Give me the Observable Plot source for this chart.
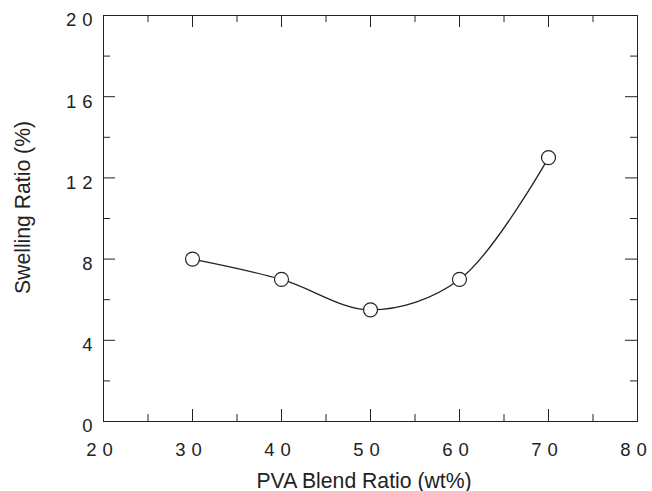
<!DOCTYPE html>
<html><head><meta charset="utf-8">
<script src="https://cdn.jsdelivr.net/npm/d3@7"></script>
<script src="https://cdn.jsdelivr.net/npm/@observablehq/plot@0.6"></script>
<style>
body{margin:0;background:#fff;}
g[aria-label="x-axis tick label"] text, g[aria-label="y-axis tick label"] text {letter-spacing:6px;}
</style>
</head><body><div id="chart"></div>
<script>
const blendRatio = [30, 40, 50, 60, 70];
const swelling = [8, 7, 5.5, 7, 13];
const xMajorTicks = [20, 30, 40, 50, 60, 70, 80];
const xMinorTicks = [25, 35, 45, 55, 65, 75];
const yMajorTicks = [0, 4, 8, 12, 16, 20];
const yMinorTicks = [2, 6, 10, 14, 18];
const xTitle = "PVA Blend Ratio (wt%)";
const yTitle = "Swelling Ratio (%)";

const W = 652, H = 491, mL = 103, mR = 15, mT = 15, mB = 70;
const fw = W - mL - mR, fh = H - mT - mB;
const data = blendRatio.map((x, i) => ({x, y: swelling[i]}));
const ink = "#222";
const chart = Plot.plot({
  width: W, height: H, marginLeft: mL, marginRight: mR, marginTop: mT, marginBottom: mB,
  style: {fontFamily: "'Liberation Sans', Arial, sans-serif", background: "#fff", color: ink},
  x: {domain: [20, 80]},
  y: {domain: [0, 20]},
  marks: [
    Plot.ruleX(xMajorTicks, {insetTop: fh - 12, stroke: ink}),
    Plot.ruleX(xMajorTicks, {insetBottom: fh - 12, stroke: ink}),
    Plot.ruleX(xMinorTicks, {insetTop: fh - 7, stroke: ink}),
    Plot.ruleX(xMinorTicks, {insetBottom: fh - 7, stroke: ink}),
    Plot.ruleY(yMajorTicks, {insetRight: fw - 12, stroke: ink}),
    Plot.ruleY(yMajorTicks, {insetLeft: fw - 12, stroke: ink}),
    Plot.ruleY(yMinorTicks, {insetRight: fw - 7, stroke: ink}),
    Plot.ruleY(yMinorTicks, {insetLeft: fw - 7, stroke: ink}),
    Plot.frame({stroke: ink}),
    Plot.axisX(xMajorTicks, {tickSize: 0, tickPadding: 21, fontSize: 18.5, dx: -1, label: null}),
    Plot.axisY(yMajorTicks, {tickSize: 0, tickPadding: 5, fontSize: 18.5, dy: 5, label: null}),
    Plot.line(data, {x: "x", y: "y", curve: "catmull-rom", stroke: ink, strokeWidth: 1.3}),
    Plot.dot(data, {x: "x", y: "y", r: 7, fill: "#fff", stroke: ink, strokeWidth: 1.2}),
    Plot.text([xTitle], {frameAnchor: "bottom", textAnchor: "middle", lineAnchor: "middle", dx: -6.5, dy: 59.6, fontSize: 21.2, fill: ink}),
    Plot.text([yTitle], {frameAnchor: "left", textAnchor: "middle", lineAnchor: "middle", rotate: -90, dx: -80, dy: -11, fontSize: 21.2, fill: ink})
  ]
});
document.getElementById("chart").appendChild(chart);
</script>
</body></html>
